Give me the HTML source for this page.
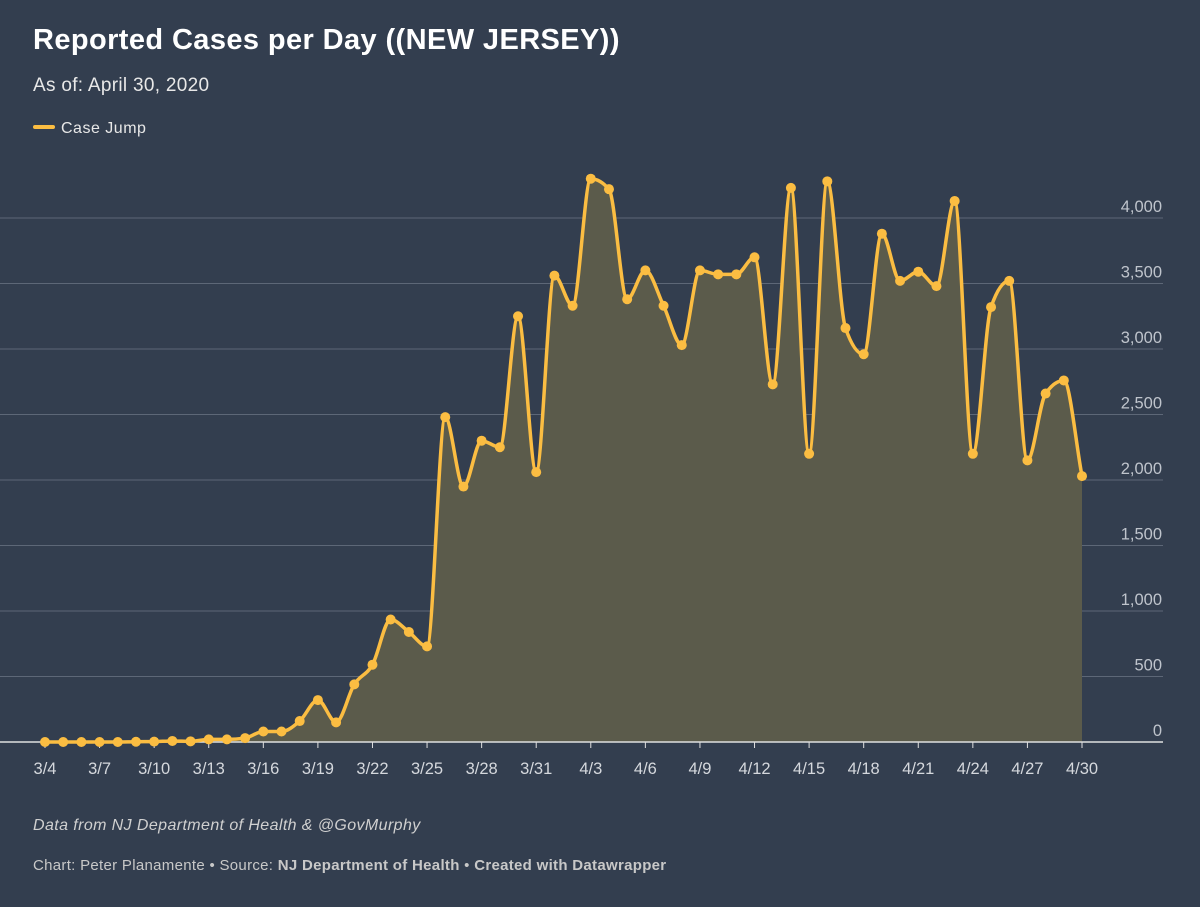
<!DOCTYPE html>
<html><head><meta charset="utf-8"><style>
body{margin:0;background:#333e4f;width:1200px;height:907px;overflow:hidden;font-family:"Liberation Sans",sans-serif;color:#fff}
.t{position:absolute;left:33px;top:24px;font-size:29px;font-weight:bold;letter-spacing:0.4px}
.s{position:absolute;left:33px;top:75px;font-size:19px;color:#e8e8e8;letter-spacing:0.3px}
.l{position:absolute;left:33px;top:120px;font-size:16px;color:#e8e8e8;letter-spacing:0.5px}
.l span{display:inline-block;width:22px;height:4px;background:#fbbd42;border-radius:2px;vertical-align:middle;margin-right:6px;margin-top:-3px}
.n{position:absolute;left:33px;top:817px;font-size:16px;font-style:italic;color:#d0d0d0;letter-spacing:0.4px}
.f{position:absolute;left:33px;top:857px;font-size:15px;color:#c8c8c8;letter-spacing:0.3px}
svg{position:absolute;left:0;top:0}
</style></head><body>
<div class="t">Reported Cases per Day ((NEW JERSEY))</div>
<div class="s">As of: April 30, 2020</div>
<div class="l"><span></span>Case Jump</div>
<svg id="c" width="1200" height="907"></svg>
<div class="n">Data from NJ Department of Health &amp; @GovMurphy</div>
<div class="f">Chart: Peter Planamente • Source: <b>NJ Department of Health</b> • <b>Created with Datawrapper</b></div>
<script>
const values=[0,0,0,0,0,2,3,8,5,20,20,30,80,80,160,320,150,440,590,935,840,730,2480,1950,2300,2250,3250,2060,3560,3330,4300,4220,3380,3600,3330,3030,3600,3570,3570,3700,2730,4230,2200,4280,3160,2960,3880,3520,3590,3480,4130,2200,3320,3520,2150,2660,2760,2030];
const yTicks=[0,500,1000,1500,2000,2500,3000,3500,4000];
const xLabels=["3/4","3/7","3/10","3/13","3/16","3/19","3/22","3/25","3/28","3/31","4/3","4/6","4/9","4/12","4/15","4/18","4/21","4/24","4/27","4/30"];
const NS="http://www.w3.org/2000/svg",svg=document.getElementById('c');
const x=i=>45+i*(1082-45)/(values.length-1);
const y=v=>742-v*(742-218)/4000;
function mk(t,a,p){const e=document.createElementNS(NS,t);for(const k in a)e.setAttribute(k,a[k]);(p||svg).appendChild(e);return e;}
yTicks.forEach(v=>{
  if(v>0){const g=mk('line',{x1:0,x2:1163,y1:y(v),y2:y(v),stroke:'#5d6777','stroke-width':1});
  
  }
  const t=mk('text',{x:1162,y:y(v)-6,'text-anchor':'end','font-size':16.5,fill:'#bfc4cc'});t.textContent=v.toLocaleString('en-US');
  
  
});
const P=values.map((v,i)=>[x(i),y(v)]);const n=P.length;
const d=[],m=[];for(let i=0;i<n-1;i++)d.push((P[i+1][1]-P[i][1])/(P[i+1][0]-P[i][0]));
for(let i=0;i<n;i++){if(i==0)m.push(d[0]);else if(i==n-1)m.push(d[n-2]);else m.push(d[i-1]*d[i]<=0?0:(Math.sign(d[i-1])+Math.sign(d[i]))*Math.min(Math.abs(d[i-1]),Math.abs(d[i]),0.5*Math.abs((d[i-1]+d[i])/2)));}
let path='M'+P[0][0]+','+P[0][1];
for(let i=0;i<n-1;i++){const h=(P[i+1][0]-P[i][0])/3;path+=`C${P[i][0]+h},${P[i][1]+m[i]*h} ${P[i+1][0]-h},${P[i+1][1]-m[i+1]*h} ${P[i+1][0]},${P[i+1][1]}`;}
const area=mk('path',{d:path+`L${P[n-1][0]},${y(0)}L${P[0][0]},${y(0)}Z`,fill:'#5b5b4b'});


const ax=mk('line',{x1:0,x2:1163,y1:y(0),y2:y(0),stroke:'#e0e0e0','stroke-width':1.5});


xLabels.forEach((l,k)=>{const i=k*3;
  mk('line',{x1:x(i),x2:x(i),y1:y(0),y2:y(0)+6,stroke:'#e0e0e0','stroke-width':1});
  const t=mk('text',{x:x(i),y:774,'text-anchor':'middle','font-size':16.5,fill:'#d5d8dd'});t.textContent=l;
  
  });
const ln=mk('path',{d:path,fill:'none',stroke:'#fbbd42','stroke-width':3.5});


P.forEach(p=>{const c=mk('circle',{cx:p[0],cy:p[1],r:5,fill:'#fbbd42'});
  
  });
</script>
</body></html>
